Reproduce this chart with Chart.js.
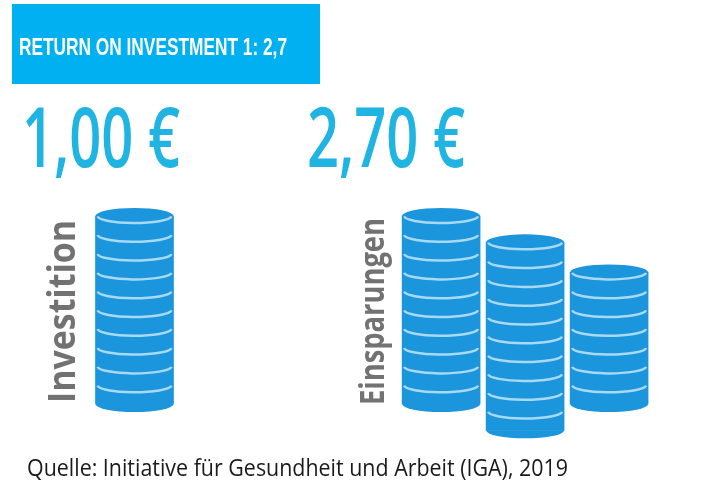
<!DOCTYPE html>
<html>
<head>
<meta charset="utf-8">
<script src="https://cdn.jsdelivr.net/npm/chart.js@4.4.0/dist/chart.umd.min.js"></script>
<style>
  html, body { margin: 0; padding: 0; background: #fff; }
  canvas { display: block; }
</style>
</head>
<body>
<canvas id="roiChart" width="727" height="484"></canvas>
<script>
  // data
  const title = 'RETURN ON INVESTMENT 1: 2,7';
  const groups = ['Investition', 'Einsparungen'];
  const amounts = [1.00, 2.70];
  const investitionCoins = [10];
  const einsparungenCoins = [10, 10, 7];
  const source = 'Quelle: Initiative für Gesundheit und Arbeit (IGA), 2019';

  // layout of the stacks (x in stack widths, lift in coins)
  const groupStart = [0, 3.65];
  const stackLift = [[0], [0, -1.4, 0]];

  const COIN = '#1b95dc';
  const EDGE = '#a8d9f5';
  const RY = 8;

  const stacks = [investitionCoins, einsparungenCoins];
  const points = [];
  stacks.forEach(function (coins, g) {
    coins.forEach(function (n, i) {
      const lift = stackLift[g][i];
      points.push({ x: groupStart[g] + i, y: [lift, lift + n] });
    });
  });

  function euro(v) {
    return v.toFixed(2).replace('.', ',') + ' €';
  }

  // draw text squeezed/stretched to a given length
  function fitText(ctx, text, x, y, width, angle) {
    const w = ctx.measureText(text).width;
    ctx.save();
    ctx.translate(x, y);
    if (angle) ctx.rotate(angle);
    ctx.scale(width / w, 1);
    ctx.fillText(text, 0, 0);
    ctx.restore();
  }

  const coinPlugin = {
    id: 'coins',
    afterDatasetsDraw(chart) {
      const ctx = chart.ctx;
      const y = chart.scales.y;
      const meta = chart.getDatasetMeta(0);
      meta.data.forEach(function (bar, i) {
        const lo = points[i].y[0], hi = points[i].y[1];
        const cx = bar.x, rx = bar.width / 2;
        ctx.save();
        ctx.fillStyle = COIN;
        ctx.beginPath();
        ctx.ellipse(cx, y.getPixelForValue(lo), rx, RY, 0, 0, Math.PI);
        ctx.fill();
        ctx.beginPath();
        ctx.ellipse(cx, y.getPixelForValue(hi), rx, RY, 0, 0, 2 * Math.PI);
        ctx.fill();
        ctx.strokeStyle = EDGE;
        ctx.lineWidth = 2.5;
        for (let v = lo + 1; v <= hi + 1e-6; v++) {
          ctx.beginPath();
          ctx.ellipse(cx, y.getPixelForValue(v), rx - 2, RY - 1, 0, 0.06, Math.PI - 0.06);
          ctx.stroke();
        }
        ctx.restore();
      });
    }
  };

  const textPlugin = {
    id: 'texts',
    afterDraw(chart) {
      const ctx = chart.ctx;
      ctx.save();
      ctx.textBaseline = 'alphabetic';
      ctx.textAlign = 'left';

      // header box
      ctx.fillStyle = '#00b0f0';
      ctx.fillRect(12, 4, 308, 80);
      ctx.fillStyle = '#ffffff';
      ctx.font = 'bold 24px "Liberation Sans", Arial, sans-serif';
      fitText(ctx, title, 19, 54.5, 268);

      // amounts
      ctx.fillStyle = '#1fb4e2';
      ctx.font = '600 83px "Open Sans", sans-serif';
      fitText(ctx, euro(amounts[0]), 22, 167, 158);
      fitText(ctx, euro(amounts[1]), 307, 167, 158);

      // group labels, rotated
      ctx.fillStyle = '#727272';
      ctx.font = 'bold 37px "Open Sans", sans-serif';
      fitText(ctx, groups[0], 75, 403, 183, -Math.PI / 2);
      ctx.font = 'bold 34px "Open Sans", sans-serif';
      fitText(ctx, groups[1], 384, 405, 187, -Math.PI / 2);

      // source
      ctx.fillStyle = '#1a1a1a';
      ctx.font = '23px "Open Sans", sans-serif';
      fitText(ctx, source, 27, 475.5, 541);
      ctx.restore();
    }
  };

  const ctx = document.getElementById('roiChart');
  new Chart(ctx, {
    type: 'bar',
    data: {
      datasets: [{
        data: points,
        backgroundColor: COIN,
        borderWidth: 0,
        barThickness: 78
      }]
    },
    options: {
      responsive: false,
      animation: false,
      events: [],
      layout: { padding: { top: 178.4, bottom: 23.6, left: 50.5, right: 4.5 } },
      plugins: {
        legend: { display: false },
        tooltip: { enabled: false }
      },
      scales: {
        x: { type: 'linear', min: -1, max: 7, offset: false, display: false },
        y: { min: -3, max: 12, display: false }
      }
    },
    plugins: [coinPlugin, textPlugin]
  });
</script>
</body>
</html>
